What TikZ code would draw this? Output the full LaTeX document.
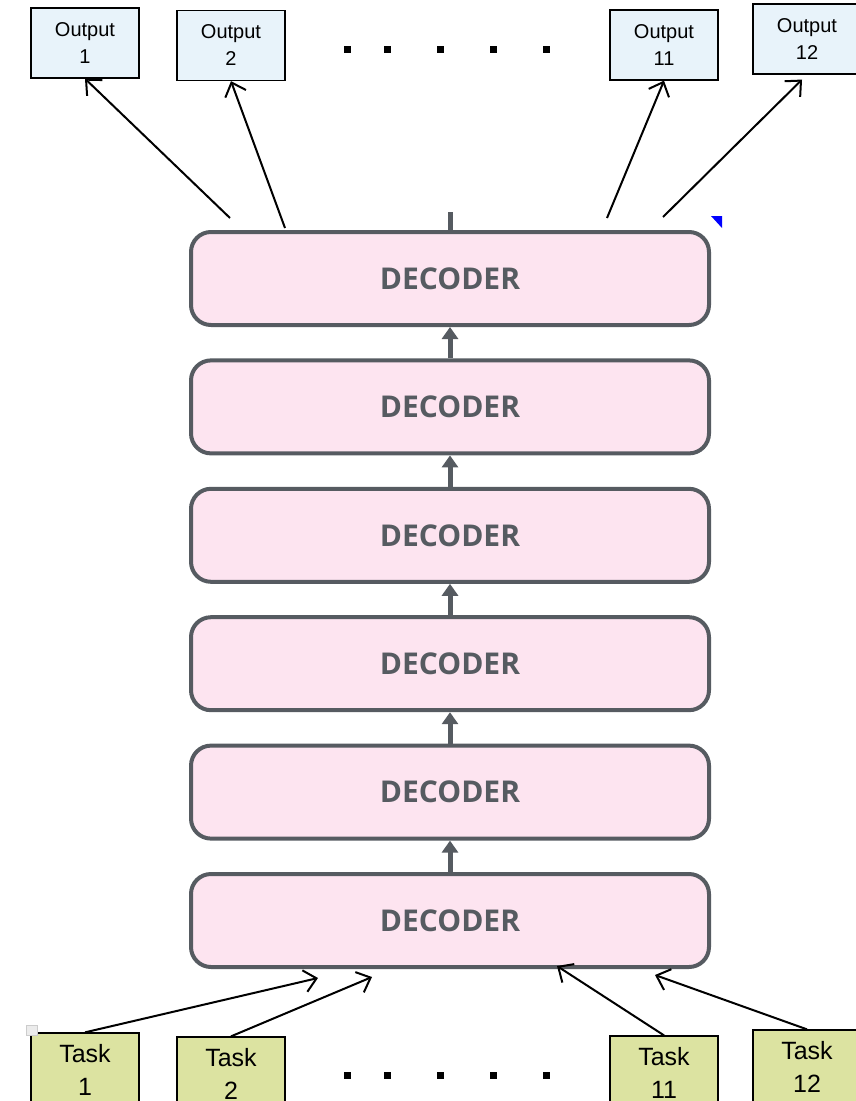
\documentclass[tikz,border=0pt]{standalone}
\usepackage{fontspec}
\setmainfont{Liberation Sans}
\newfontfamily\decfont{Open Sans}
\usepackage{tikz}
\usetikzlibrary{positioning, arrows.meta}
\definecolor{decfill}{HTML}{FDE4F0}
\definecolor{decline}{HTML}{565B61}
\definecolor{outfill}{HTML}{E8F3FA}
\definecolor{taskfill}{HTML}{DCE3A1}

\begin{document}
\begin{tikzpicture}[x=1pt, y=-1pt,
              outbox/.style = {shape=rectangle, draw, line width=1.3pt,
                fill=outfill, align=center, inner sep=0pt,
                minimum width=108pt, minimum height=70pt,
                font=\fontsize{20}{27}\selectfont},
              taskbox/.style = {shape=rectangle, draw, line width=1.3pt,
                fill=taskfill, align=center, inner sep=0pt,
                minimum width=108pt, minimum height=74pt,
                font=\fontsize{25}{33}\selectfont},
              decbox/.style = {shape=rectangle, rounded corners=20pt,
                draw=decline, line width=4pt, fill=decfill,
                minimum width=518pt, minimum height=93pt, text=decline,
                font=\decfont\bfseries\fontsize{30}{32}\selectfont},
              flow/.style = {draw=decline, line width=5pt,
                -{Triangle[length=12pt,width=16pt]}},
              link/.style = {draw, line width=2pt,
                -{Straight Barb[length=12pt,width=22pt]}},
              dot/.style = {fill, minimum size=7pt, inner sep=0pt}]
  \useasboundingbox (0,0) rectangle (856,1101);
  \clip (0,0) rectangle (856,1101);
  \foreach \i in {0,...,5}
    \node[decbox] (dec\i) at (450,{920.5-128.4*\i}) {DECODER};
  \foreach \i [evaluate=\i as \j using int(\i+1)] in {0,...,4}
    \draw[flow] (dec\i) -- (dec\j);
  \coordinate (stub) at (450,212);
  \draw[draw=decline, line width=5pt] (dec5) -- (stub);
  \fill[blue] (711,216) -- (722,216) -- (722,228) -- cycle;

  \node[outbox] (out1) at (85,43) {Output\\1};
  \node[outbox] (out2) at (231,45.5) {Output\\2};
  \node[outbox] (out11) at (664,45) {Output\\11};
  \node[outbox] (out12) at (807,39) {Output\\12};
  \coordinate (from1) at (230,218);
  \coordinate (from2) at (285,228);
  \coordinate (from11) at (607,218);
  \coordinate (from12) at (663,217);
  \draw[link] (from1) -- (out1.south);
  \draw[link] (from2) -- (out2.south);
  \draw[link] (from11) -- (out11.south);
  \draw[link, shorten >=7pt] (from12) -- (out12.south);

  \node[taskbox] (task1) at (85,1070) {Task\\1};
  \node[taskbox] (task2) at (231,1074) {Task\\2};
  \node[taskbox] (task11) at (664,1073) {Task\\11};
  \node[taskbox] (task12) at (807,1067) {Task\\12};
  \coordinate (to1) at (318,978);
  \coordinate (to2) at (372,977);
  \coordinate (to11) at (557,966);
  \coordinate (to12) at (655,975);
  \draw[link] (task1.north) -- (to1);
  \draw[link] (task2.north) -- (to2);
  \draw[link] (task11.north) -- (to11);
  \draw[link] (task12.north) -- (to12);
  \draw[gray!40, fill=gray!15] (26,1025) rectangle (37,1035);

  \foreach \x [count=\k] in {347,387,440,493,546} {
    \node[dot] (topdot\k) at (\x,49) {};
    \node[dot] (botdot\k) at (\x,1075) {};
  }
\end{tikzpicture}
\end{document}
